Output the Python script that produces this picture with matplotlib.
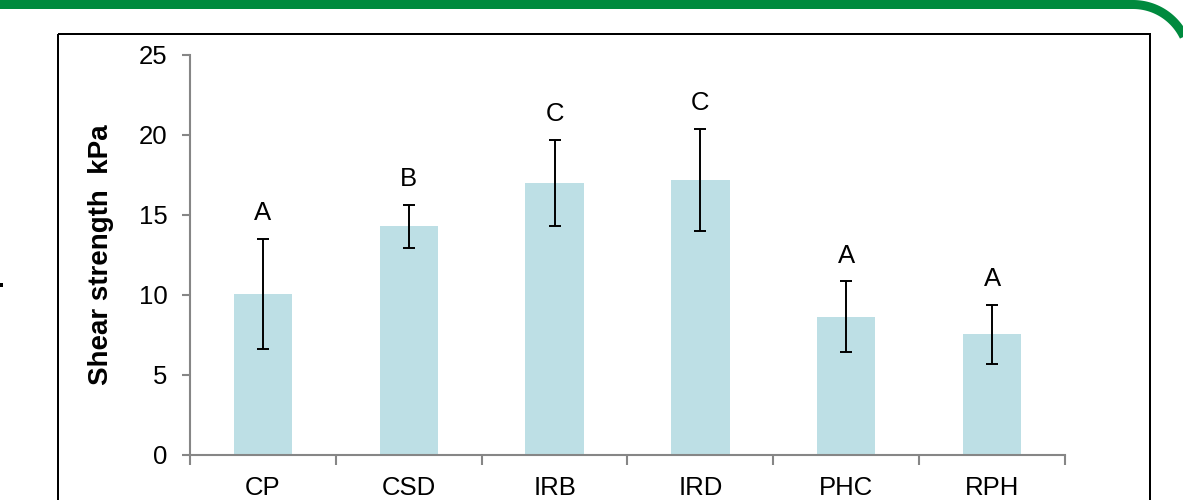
import matplotlib
matplotlib.use('Agg')
import matplotlib.pyplot as plt
from matplotlib.patches import Rectangle
import numpy as np

# Data
categories = ['CP', 'CSD', 'IRB', 'IRD', 'PHC', 'RPH']
shear_mean = [10.05, 14.3, 17.0, 17.2, 8.65, 7.55]
shear_err = [3.45, 1.35, 2.7, 3.2, 2.2, 1.85]
groups = ['A', 'B', 'C', 'C', 'A', 'A']

plt.rcParams['font.family'] = ['Liberation Sans', 'DejaVu Sans']

W, H = 1183, 500
fig = plt.figure(figsize=(W / 100, H / 100), dpi=100)
fig.patch.set_facecolor('white')

# Background decorations in pixel coordinates
bg = fig.add_axes([0, 0, 1, 1], zorder=0)
bg.set_xlim(0, W)
bg.set_ylim(H, 0)
bg.axis('off')

# green rounded border: top edge plus the rounded top-right corner
cx, cy, r = 1133, 61, 56.5
t = np.linspace(-np.pi / 2, 0, 60)
bx = np.concatenate([[-20], cx + r * np.cos(t), [cx + r]])
by = np.concatenate([[cy - r], cy + r * np.sin(t), [700]])
bg.plot(bx, by, color='#008A3E', linewidth=9 * 0.72, solid_capstyle='butt',
        solid_joinstyle='round')

# black frame around the chart
frame = Rectangle((58, 34), 1150 - 58, 600, fill=False,
                  edgecolor='black', linewidth=2 * 0.72)
bg.add_patch(frame)

# stray mark at the left edge
bg.add_patch(Rectangle((0, 283), 3, 4, facecolor='black', edgecolor='none'))

# Main chart
ax = fig.add_axes([190 / W, 45 / H, 875 / W, 400 / H], zorder=1)
ax.patch.set_alpha(0)

x = np.arange(len(categories))
ax.bar(x, shear_mean, width=0.4, color='#BDDFE5', zorder=2)
ax.errorbar(x, shear_mean, yerr=shear_err, fmt='none', ecolor='black',
            elinewidth=1.4, capsize=4.5, capthick=1.4, zorder=3)

for xi, m, e, g in zip(x, shear_mean, shear_err, groups):
    ax.text(xi, m + e + 1.6, g, ha='center', va='center', fontsize=18.5)

ax.set_xlim(-0.5, len(categories) - 0.5)
ax.set_ylim(0, 25)
ax.set_yticks([0, 5, 10, 15, 20, 25])

# x ticks at category boundaries, labels centred
ax.set_xticks(np.arange(-0.5, len(categories), 1.0))
ax.set_xticklabels([])
ax.set_xticks(x, minor=True)
ax.set_xticklabels(categories, minor=True)
ax.tick_params(axis='x', which='minor', length=0, labelsize=18.5, pad=15)
ax.tick_params(axis='x', which='major', length=7, width=1.5, color='#868686', direction='out')
ax.tick_params(axis='y', length=6, width=1.5, color='#868686', labelsize=18.5, pad=10)

for side in ['top', 'right']:
    ax.spines[side].set_visible(False)
for side in ['left', 'bottom']:
    ax.spines[side].set_color('#868686')
    ax.spines[side].set_linewidth(1.5)

ax.set_ylabel('Shear strength  kPa', fontsize=20, fontweight='bold', labelpad=18)

fig.savefig('out.png', dpi=100)
